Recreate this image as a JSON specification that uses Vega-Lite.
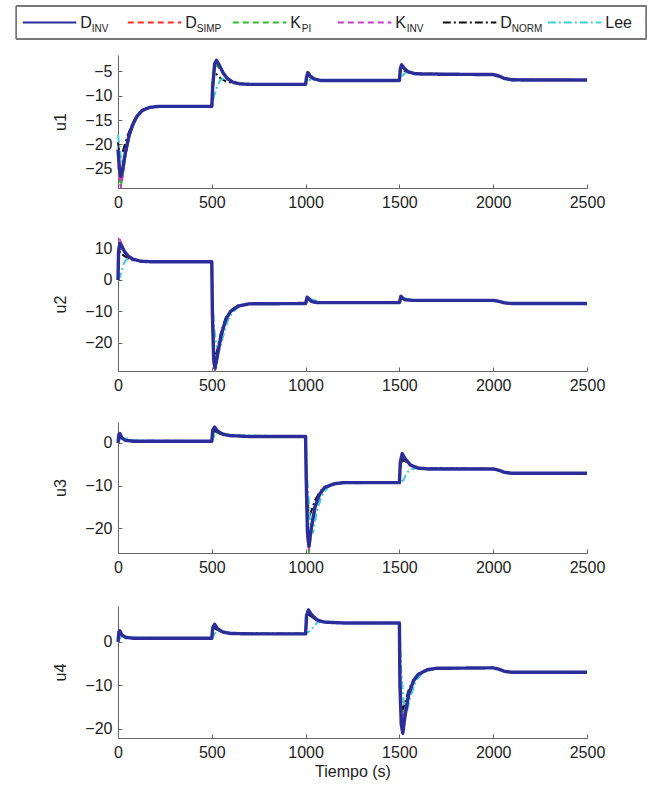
{
"$schema": "https://vega.github.io/schema/vega-lite/v6.json",
"padding": {"left": 15, "top": 5, "right": 0, "bottom": 5},
"config": {
 "view": {"stroke": null},
 "font": "Liberation Sans",
 "line": {"strokeJoin": "round", "strokeCap": "butt", "clip": true},
 "axis": {"grid": false, "domainColor": "#666", "tickColor": "#666", "labelColor": "#222", "labelFontSize": 16, "titleFontSize": 16, "titleFontWeight": "normal", "titleColor": "#222", "tickSize": -4, "labelPadding": 10, "labelFlush": false, "labelFont": "Liberation Sans", "titleFont": "Liberation Sans"},
 "axisY": {"minExtent": 42, "maxExtent": 42, "titlePadding": 8}
},
"spacing": 15,
"vconcat": [
 {
  "width": 469, "height": 33,
  "data": {"name": "leyenda"},
  "encoding": {"x": {"field": "s", "type": "nominal", "scale": {"type": "band", "domain": ["D_INV","D_SIMP","K_PI","K_INV","D_NORM","Lee"], "range": [-101.7, 528.3], "paddingInner": 0, "paddingOuter": 0}, "axis": null}},
  "layer": [
   {"mark": {"type": "rect", "fill": "transparent", "stroke": "#777", "strokeWidth": 1, "xOffset": -52.5, "x2Offset": 52.5},
    "encoding": {"x": {"datum": "D_INV", "type": "nominal"}, "x2": {"datum": "Lee"}}},
   {"mark": {"type": "rule", "xOffset": -46, "x2Offset": 7.5, "strokeWidth": 2},
    "encoding": {"x2": {"field": "s"},
     "color": {"field": "s", "type": "nominal", "scale": {"domain": ["D_INV","D_SIMP","K_PI","K_INV","D_NORM","Lee"], "range": ["#2b2d9b","#ff2a2a","#2dbb2d","#c43cc4","#111111","#40cfd0"]}, "legend": null},
     "strokeDash": {"field": "s", "type": "nominal", "scale": {"domain": ["D_INV","D_SIMP","K_PI","K_INV","D_NORM","Lee"], "range": [[1,0],[6,4],[6,4],[6,4],[8,3,2,3],[8,3,2,3]]}, "legend": null}}},
   {"mark": {"type": "text", "align": "left", "xOffset": 11.5, "fontSize": 16, "baseline": "middle", "color": "#222"},
    "encoding": {"text": {"field": "main"}}},
   {"mark": {"type": "text", "align": "left", "xOffset": 23, "dy": 6, "fontSize": 10, "baseline": "middle", "color": "#222"},
    "encoding": {"text": {"field": "sub"}}}
  ]
 },
 {"width": 469, "height": 133, "data": {"name": "u1"},
  "encoding": {
   "x": {"field": "t", "type": "quantitative", "scale": {"domain": [0, 2500], "nice": false}, "axis": {"values": [0,500,1000,1500,2000,2500], "format": "d", "title": " ", "titleFontSize": 10, "titlePadding": 2}},
   "y": {"field": "y", "type": "quantitative", "scale": {"domain": [-28.9, -1.7], "nice": false, "zero": false}, "axis": {"values": [-25,-20,-15,-10,-5], "title": "u1"}},
   "color": {"field": "s", "type": "nominal", "scale": {"domain": ["D_INV","D_SIMP","K_PI","K_INV","D_NORM","Lee"], "range": ["#2b2d9b","#ff2a2a","#2dbb2d","#c43cc4","#111111","#40cfd0"]}, "legend": null},
   "strokeDash": {"field": "s", "type": "nominal", "scale": {"domain": ["D_INV","D_SIMP","K_PI","K_INV","D_NORM","Lee"], "range": [[1,0],[6,4],[6,4],[6,4],[8,3,2,3],[8,3,2,3]]}, "legend": null}},
  "layer": [
   {"transform": [{"filter": "datum.s != 'D_INV'"}], "mark": {"type": "line", "strokeWidth": 2}},
   {"transform": [{"filter": "datum.s == 'D_INV'"}], "mark": {"type": "line", "strokeWidth": 3.4}}
  ]},
 {"width": 469, "height": 134, "data": {"name": "u2"},
  "encoding": {
   "x": {"field": "t", "type": "quantitative", "scale": {"domain": [0, 2500], "nice": false}, "axis": {"values": [0,500,1000,1500,2000,2500], "format": "d", "title": " ", "titleFontSize": 12, "titlePadding": 3}},
   "y": {"field": "y", "type": "quantitative", "scale": {"domain": [-29, 13.7], "nice": false, "zero": false}, "axis": {"values": [-20,-10,0,10], "title": "u2"}},
   "color": {"field": "s", "type": "nominal", "scale": {"domain": ["D_INV","D_SIMP","K_PI","K_INV","D_NORM","Lee"], "range": ["#2b2d9b","#ff2a2a","#2dbb2d","#c43cc4","#111111","#40cfd0"]}, "legend": null},
   "strokeDash": {"field": "s", "type": "nominal", "scale": {"domain": ["D_INV","D_SIMP","K_PI","K_INV","D_NORM","Lee"], "range": [[1,0],[6,4],[6,4],[6,4],[8,3,2,3],[8,3,2,3]]}, "legend": null}},
  "layer": [
   {"transform": [{"filter": "datum.s != 'D_INV'"}], "mark": {"type": "line", "strokeWidth": 2}},
   {"transform": [{"filter": "datum.s == 'D_INV'"}], "mark": {"type": "line", "strokeWidth": 3.4}}
  ]},
 {"width": 469, "height": 131, "data": {"name": "u3"},
  "encoding": {
   "x": {"field": "t", "type": "quantitative", "scale": {"domain": [0, 2500], "nice": false}, "axis": {"values": [0,500,1000,1500,2000,2500], "format": "d", "title": " ", "titleFontSize": 13, "titlePadding": 3}},
   "y": {"field": "y", "type": "quantitative", "scale": {"domain": [-25.8, 4.9], "nice": false, "zero": false}, "axis": {"values": [-20,-10,0], "title": "u3"}},
   "color": {"field": "s", "type": "nominal", "scale": {"domain": ["D_INV","D_SIMP","K_PI","K_INV","D_NORM","Lee"], "range": ["#2b2d9b","#ff2a2a","#2dbb2d","#c43cc4","#111111","#40cfd0"]}, "legend": null},
   "strokeDash": {"field": "s", "type": "nominal", "scale": {"domain": ["D_INV","D_SIMP","K_PI","K_INV","D_NORM","Lee"], "range": [[1,0],[6,4],[6,4],[6,4],[8,3,2,3],[8,3,2,3]]}, "legend": null}},
  "layer": [
   {"transform": [{"filter": "datum.s != 'D_INV'"}], "mark": {"type": "line", "strokeWidth": 2}},
   {"transform": [{"filter": "datum.s == 'D_INV'"}], "mark": {"type": "line", "strokeWidth": 3.4}}
  ]},
 {"width": 469, "height": 132, "data": {"name": "u4"},
  "encoding": {
   "x": {"field": "t", "type": "quantitative", "scale": {"domain": [0, 2500], "nice": false}, "axis": {"values": [0,500,1000,1500,2000,2500], "format": "d", "title": "Tiempo (s)", "titlePadding": 3}},
   "y": {"field": "y", "type": "quantitative", "scale": {"domain": [-22.1, 8.2], "nice": false, "zero": false}, "axis": {"values": [-20,-10,0], "title": "u4"}},
   "color": {"field": "s", "type": "nominal", "scale": {"domain": ["D_INV","D_SIMP","K_PI","K_INV","D_NORM","Lee"], "range": ["#2b2d9b","#ff2a2a","#2dbb2d","#c43cc4","#111111","#40cfd0"]}, "legend": null},
   "strokeDash": {"field": "s", "type": "nominal", "scale": {"domain": ["D_INV","D_SIMP","K_PI","K_INV","D_NORM","Lee"], "range": [[1,0],[6,4],[6,4],[6,4],[8,3,2,3],[8,3,2,3]]}, "legend": null}},
  "layer": [
   {"transform": [{"filter": "datum.s != 'D_INV'"}], "mark": {"type": "line", "strokeWidth": 2}},
   {"transform": [{"filter": "datum.s == 'D_INV'"}], "mark": {"type": "line", "strokeWidth": 3.4}}
  ]}
],
"datasets": {
 "leyenda": [
  {"s": "D_INV", "main": "D", "sub": "INV"},
  {"s": "D_SIMP", "main": "D", "sub": "SIMP"},
  {"s": "K_PI", "main": "K", "sub": "PI"},
  {"s": "K_INV", "main": "K", "sub": "INV"},
  {"s": "D_NORM", "main": "D", "sub": "NORM"},
  {"s": "Lee", "main": "Lee", "sub": ""}
 ],
 "u1": [
  {"s":"D_INV","t":0,"y":-21},{"s":"D_INV","t":8,"y":-25},{"s":"D_INV","t":15,"y":-26.5},{"s":"D_INV","t":25,"y":-25},{"s":"D_INV","t":40,"y":-21.5},{"s":"D_INV","t":60,"y":-18},{"s":"D_INV","t":80,"y":-15.8},{"s":"D_INV","t":100,"y":-14.3},{"s":"D_INV","t":130,"y":-13},{"s":"D_INV","t":170,"y":-12.4},{"s":"D_INV","t":220,"y":-12.2},{"s":"D_INV","t":500,"y":-12.2},{"s":"D_INV","t":505,"y":-8},{"s":"D_INV","t":515,"y":-3.5},{"s":"D_INV","t":525,"y":-2.8},{"s":"D_INV","t":540,"y":-3.8},{"s":"D_INV","t":560,"y":-5.3},{"s":"D_INV","t":580,"y":-6.4},{"s":"D_INV","t":610,"y":-7.2},{"s":"D_INV","t":650,"y":-7.6},{"s":"D_INV","t":700,"y":-7.7},{"s":"D_INV","t":1000,"y":-7.7},{"s":"D_INV","t":1005,"y":-6.2},{"s":"D_INV","t":1012,"y":-5.3},{"s":"D_INV","t":1025,"y":-6},{"s":"D_INV","t":1045,"y":-6.6},{"s":"D_INV","t":1080,"y":-6.9},{"s":"D_INV","t":1500,"y":-6.9},{"s":"D_INV","t":1505,"y":-4.5},{"s":"D_INV","t":1512,"y":-3.7},{"s":"D_INV","t":1525,"y":-4.4},{"s":"D_INV","t":1545,"y":-5.1},{"s":"D_INV","t":1580,"y":-5.5},{"s":"D_INV","t":1620,"y":-5.6},{"s":"D_INV","t":2000,"y":-5.7},{"s":"D_INV","t":2030,"y":-6.0},{"s":"D_INV","t":2060,"y":-6.5},{"s":"D_INV","t":2100,"y":-6.75},{"s":"D_INV","t":2150,"y":-6.8},{"s":"D_INV","t":2500,"y":-6.8},
  {"s":"D_SIMP","t":0,"y":-22},{"s":"D_SIMP","t":8,"y":-26.5},{"s":"D_SIMP","t":15,"y":-28},{"s":"D_SIMP","t":25,"y":-26},{"s":"D_SIMP","t":40,"y":-22},{"s":"D_SIMP","t":60,"y":-18.3},{"s":"D_SIMP","t":80,"y":-16},{"s":"D_SIMP","t":100,"y":-14.4},{"s":"D_SIMP","t":130,"y":-13},{"s":"D_SIMP","t":170,"y":-12.4},{"s":"D_SIMP","t":220,"y":-12.2},{"s":"D_SIMP","t":500,"y":-12.2},{"s":"D_SIMP","t":505,"y":-8.5},{"s":"D_SIMP","t":515,"y":-4},{"s":"D_SIMP","t":525,"y":-3.2},{"s":"D_SIMP","t":540,"y":-4},{"s":"D_SIMP","t":560,"y":-5.4},{"s":"D_SIMP","t":580,"y":-6.4},{"s":"D_SIMP","t":610,"y":-7.2},{"s":"D_SIMP","t":650,"y":-7.6},{"s":"D_SIMP","t":700,"y":-7.7},{"s":"D_SIMP","t":1000,"y":-7.7},{"s":"D_SIMP","t":1005,"y":-6.4},{"s":"D_SIMP","t":1012,"y":-5.6},{"s":"D_SIMP","t":1025,"y":-6.1},{"s":"D_SIMP","t":1045,"y":-6.6},{"s":"D_SIMP","t":1080,"y":-6.9},{"s":"D_SIMP","t":1500,"y":-6.9},{"s":"D_SIMP","t":1505,"y":-4.8},{"s":"D_SIMP","t":1512,"y":-4},{"s":"D_SIMP","t":1525,"y":-4.6},{"s":"D_SIMP","t":1545,"y":-5.2},{"s":"D_SIMP","t":1580,"y":-5.5},{"s":"D_SIMP","t":2000,"y":-5.7},{"s":"D_SIMP","t":2030,"y":-6.0},{"s":"D_SIMP","t":2060,"y":-6.5},{"s":"D_SIMP","t":2100,"y":-6.75},{"s":"D_SIMP","t":2500,"y":-6.8},
  {"s":"K_PI","t":0,"y":-22.5},{"s":"K_PI","t":8,"y":-27},{"s":"K_PI","t":15,"y":-28.6},{"s":"K_PI","t":25,"y":-26.5},{"s":"K_PI","t":40,"y":-22.3},{"s":"K_PI","t":60,"y":-18.5},{"s":"K_PI","t":80,"y":-16.1},{"s":"K_PI","t":100,"y":-14.5},{"s":"K_PI","t":130,"y":-13.1},{"s":"K_PI","t":170,"y":-12.4},{"s":"K_PI","t":220,"y":-12.2},{"s":"K_PI","t":500,"y":-12.2},{"s":"K_PI","t":505,"y":-9},{"s":"K_PI","t":515,"y":-5},{"s":"K_PI","t":525,"y":-3.8},{"s":"K_PI","t":540,"y":-4.4},{"s":"K_PI","t":560,"y":-5.6},{"s":"K_PI","t":580,"y":-6.5},{"s":"K_PI","t":610,"y":-7.2},{"s":"K_PI","t":650,"y":-7.6},{"s":"K_PI","t":700,"y":-7.7},{"s":"K_PI","t":1000,"y":-7.7},{"s":"K_PI","t":1005,"y":-6.5},{"s":"K_PI","t":1012,"y":-5.8},{"s":"K_PI","t":1025,"y":-6.2},{"s":"K_PI","t":1045,"y":-6.6},{"s":"K_PI","t":1080,"y":-6.9},{"s":"K_PI","t":1500,"y":-6.9},{"s":"K_PI","t":1505,"y":-5},{"s":"K_PI","t":1512,"y":-4.2},{"s":"K_PI","t":1525,"y":-4.7},{"s":"K_PI","t":1545,"y":-5.2},{"s":"K_PI","t":1580,"y":-5.5},{"s":"K_PI","t":2000,"y":-5.7},{"s":"K_PI","t":2030,"y":-6.0},{"s":"K_PI","t":2060,"y":-6.5},{"s":"K_PI","t":2100,"y":-6.75},{"s":"K_PI","t":2500,"y":-6.8},
  {"s":"K_INV","t":0,"y":-22},{"s":"K_INV","t":8,"y":-27.3},{"s":"K_INV","t":15,"y":-28.8},{"s":"K_INV","t":25,"y":-26.6},{"s":"K_INV","t":40,"y":-22.2},{"s":"K_INV","t":60,"y":-18.4},{"s":"K_INV","t":80,"y":-16},{"s":"K_INV","t":100,"y":-14.4},{"s":"K_INV","t":130,"y":-13},{"s":"K_INV","t":170,"y":-12.4},{"s":"K_INV","t":220,"y":-12.2},{"s":"K_INV","t":500,"y":-12.2},{"s":"K_INV","t":505,"y":-8.2},{"s":"K_INV","t":515,"y":-3.7},{"s":"K_INV","t":525,"y":-3.0},{"s":"K_INV","t":540,"y":-3.9},{"s":"K_INV","t":560,"y":-5.3},{"s":"K_INV","t":580,"y":-6.4},{"s":"K_INV","t":610,"y":-7.2},{"s":"K_INV","t":650,"y":-7.6},{"s":"K_INV","t":700,"y":-7.7},{"s":"K_INV","t":1000,"y":-7.7},{"s":"K_INV","t":1005,"y":-6.2},{"s":"K_INV","t":1012,"y":-5.4},{"s":"K_INV","t":1025,"y":-6},{"s":"K_INV","t":1045,"y":-6.6},{"s":"K_INV","t":1080,"y":-6.9},{"s":"K_INV","t":1500,"y":-6.9},{"s":"K_INV","t":1505,"y":-4.6},{"s":"K_INV","t":1512,"y":-3.8},{"s":"K_INV","t":1525,"y":-4.5},{"s":"K_INV","t":1545,"y":-5.1},{"s":"K_INV","t":1580,"y":-5.5},{"s":"K_INV","t":2000,"y":-5.7},{"s":"K_INV","t":2030,"y":-6.0},{"s":"K_INV","t":2060,"y":-6.5},{"s":"K_INV","t":2100,"y":-6.75},{"s":"K_INV","t":2500,"y":-6.8},
  {"s":"D_NORM","t":0,"y":-19.5},{"s":"D_NORM","t":5,"y":-21},{"s":"D_NORM","t":12,"y":-22},{"s":"D_NORM","t":25,"y":-21.5},{"s":"D_NORM","t":40,"y":-19.5},{"s":"D_NORM","t":60,"y":-17.3},{"s":"D_NORM","t":80,"y":-15.5},{"s":"D_NORM","t":100,"y":-14.2},{"s":"D_NORM","t":130,"y":-13},{"s":"D_NORM","t":170,"y":-12.4},{"s":"D_NORM","t":220,"y":-12.2},{"s":"D_NORM","t":500,"y":-12.2},{"s":"D_NORM","t":503,"y":-8},{"s":"D_NORM","t":512,"y":-5},{"s":"D_NORM","t":525,"y":-5.6},{"s":"D_NORM","t":545,"y":-6.4},{"s":"D_NORM","t":575,"y":-7.1},{"s":"D_NORM","t":620,"y":-7.5},{"s":"D_NORM","t":700,"y":-7.7},{"s":"D_NORM","t":1000,"y":-7.7},{"s":"D_NORM","t":1005,"y":-6.3},{"s":"D_NORM","t":1015,"y":-6.0},{"s":"D_NORM","t":1035,"y":-6.5},{"s":"D_NORM","t":1080,"y":-6.9},{"s":"D_NORM","t":1500,"y":-6.9},{"s":"D_NORM","t":1505,"y":-5},{"s":"D_NORM","t":1515,"y":-4.6},{"s":"D_NORM","t":1535,"y":-5.1},{"s":"D_NORM","t":1580,"y":-5.5},{"s":"D_NORM","t":2000,"y":-5.7},{"s":"D_NORM","t":2030,"y":-6},{"s":"D_NORM","t":2060,"y":-6.5},{"s":"D_NORM","t":2100,"y":-6.75},{"s":"D_NORM","t":2500,"y":-6.8},
  {"s":"Lee","t":0,"y":-18},{"s":"Lee","t":10,"y":-21},{"s":"Lee","t":20,"y":-23.5},{"s":"Lee","t":35,"y":-22.5},{"s":"Lee","t":50,"y":-20},{"s":"Lee","t":70,"y":-17},{"s":"Lee","t":95,"y":-14.8},{"s":"Lee","t":120,"y":-13.5},{"s":"Lee","t":160,"y":-12.6},{"s":"Lee","t":220,"y":-12.2},{"s":"Lee","t":500,"y":-12.2},{"s":"Lee","t":510,"y":-10.5},{"s":"Lee","t":525,"y":-8.5},{"s":"Lee","t":545,"y":-6.8},{"s":"Lee","t":565,"y":-6.5},{"s":"Lee","t":590,"y":-6.9},{"s":"Lee","t":630,"y":-7.4},{"s":"Lee","t":700,"y":-7.7},{"s":"Lee","t":1000,"y":-7.7},{"s":"Lee","t":1015,"y":-7},{"s":"Lee","t":1035,"y":-6.5},{"s":"Lee","t":1060,"y":-6.7},{"s":"Lee","t":1100,"y":-6.9},{"s":"Lee","t":1500,"y":-6.9},{"s":"Lee","t":1515,"y":-6},{"s":"Lee","t":1535,"y":-5.2},{"s":"Lee","t":1560,"y":-5.3},{"s":"Lee","t":1600,"y":-5.5},{"s":"Lee","t":2000,"y":-5.7},{"s":"Lee","t":2040,"y":-6.1},{"s":"Lee","t":2090,"y":-7.0},{"s":"Lee","t":2150,"y":-6.85},{"s":"Lee","t":2500,"y":-6.8}
 ],
 "u2": [
  {"s":"D_INV","t":0,"y":0},{"s":"D_INV","t":3,"y":9},{"s":"D_INV","t":10,"y":11.6},{"s":"D_INV","t":20,"y":10.8},{"s":"D_INV","t":35,"y":9},{"s":"D_INV","t":55,"y":7.6},{"s":"D_INV","t":80,"y":6.6},{"s":"D_INV","t":120,"y":6.0},{"s":"D_INV","t":180,"y":5.8},{"s":"D_INV","t":500,"y":5.8},{"s":"D_INV","t":503,"y":-10},{"s":"D_INV","t":510,"y":-25},{"s":"D_INV","t":517,"y":-28},{"s":"D_INV","t":530,"y":-24},{"s":"D_INV","t":550,"y":-17.5},{"s":"D_INV","t":575,"y":-12.5},{"s":"D_INV","t":600,"y":-10},{"s":"D_INV","t":640,"y":-8.3},{"s":"D_INV","t":700,"y":-7.6},{"s":"D_INV","t":1000,"y":-7.5},{"s":"D_INV","t":1008,"y":-5.5},{"s":"D_INV","t":1015,"y":-5.8},{"s":"D_INV","t":1030,"y":-6.8},{"s":"D_INV","t":1060,"y":-7.2},{"s":"D_INV","t":1500,"y":-7.2},{"s":"D_INV","t":1508,"y":-5.2},{"s":"D_INV","t":1515,"y":-5.6},{"s":"D_INV","t":1530,"y":-6.3},{"s":"D_INV","t":1570,"y":-6.5},{"s":"D_INV","t":2000,"y":-6.5},{"s":"D_INV","t":2030,"y":-6.8},{"s":"D_INV","t":2060,"y":-7.3},{"s":"D_INV","t":2100,"y":-7.5},{"s":"D_INV","t":2500,"y":-7.5},
  {"s":"D_SIMP","t":0,"y":0},{"s":"D_SIMP","t":3,"y":9.5},{"s":"D_SIMP","t":10,"y":12.2},{"s":"D_SIMP","t":20,"y":11},{"s":"D_SIMP","t":35,"y":9},{"s":"D_SIMP","t":55,"y":7.6},{"s":"D_SIMP","t":80,"y":6.6},{"s":"D_SIMP","t":120,"y":6},{"s":"D_SIMP","t":180,"y":5.8},{"s":"D_SIMP","t":500,"y":5.8},{"s":"D_SIMP","t":503,"y":-11},{"s":"D_SIMP","t":510,"y":-26},{"s":"D_SIMP","t":517,"y":-28.5},{"s":"D_SIMP","t":530,"y":-24.5},{"s":"D_SIMP","t":550,"y":-17.8},{"s":"D_SIMP","t":575,"y":-12.6},{"s":"D_SIMP","t":600,"y":-10},{"s":"D_SIMP","t":640,"y":-8.3},{"s":"D_SIMP","t":700,"y":-7.6},{"s":"D_SIMP","t":1000,"y":-7.5},{"s":"D_SIMP","t":1008,"y":-5.6},{"s":"D_SIMP","t":1015,"y":-5.9},{"s":"D_SIMP","t":1030,"y":-6.8},{"s":"D_SIMP","t":1060,"y":-7.2},{"s":"D_SIMP","t":1500,"y":-7.2},{"s":"D_SIMP","t":1508,"y":-5.3},{"s":"D_SIMP","t":1515,"y":-5.7},{"s":"D_SIMP","t":1530,"y":-6.3},{"s":"D_SIMP","t":1570,"y":-6.5},{"s":"D_SIMP","t":2000,"y":-6.5},{"s":"D_SIMP","t":2030,"y":-6.8},{"s":"D_SIMP","t":2060,"y":-7.3},{"s":"D_SIMP","t":2100,"y":-7.5},{"s":"D_SIMP","t":2500,"y":-7.5},
  {"s":"K_PI","t":0,"y":0},{"s":"K_PI","t":3,"y":9.3},{"s":"K_PI","t":10,"y":12.5},{"s":"K_PI","t":20,"y":11.2},{"s":"K_PI","t":35,"y":9.2},{"s":"K_PI","t":55,"y":7.7},{"s":"K_PI","t":80,"y":6.6},{"s":"K_PI","t":120,"y":6},{"s":"K_PI","t":180,"y":5.8},{"s":"K_PI","t":500,"y":5.8},{"s":"K_PI","t":503,"y":-12},{"s":"K_PI","t":510,"y":-27},{"s":"K_PI","t":517,"y":-29},{"s":"K_PI","t":530,"y":-25},{"s":"K_PI","t":550,"y":-18},{"s":"K_PI","t":575,"y":-12.8},{"s":"K_PI","t":600,"y":-10.1},{"s":"K_PI","t":640,"y":-8.3},{"s":"K_PI","t":700,"y":-7.6},{"s":"K_PI","t":1000,"y":-7.5},{"s":"K_PI","t":1008,"y":-5.8},{"s":"K_PI","t":1015,"y":-6},{"s":"K_PI","t":1030,"y":-6.8},{"s":"K_PI","t":1060,"y":-7.2},{"s":"K_PI","t":1500,"y":-7.2},{"s":"K_PI","t":1508,"y":-5.5},{"s":"K_PI","t":1515,"y":-5.8},{"s":"K_PI","t":1530,"y":-6.3},{"s":"K_PI","t":1570,"y":-6.5},{"s":"K_PI","t":2000,"y":-6.5},{"s":"K_PI","t":2030,"y":-6.8},{"s":"K_PI","t":2060,"y":-7.3},{"s":"K_PI","t":2100,"y":-7.5},{"s":"K_PI","t":2500,"y":-7.5},
  {"s":"K_INV","t":0,"y":0},{"s":"K_INV","t":3,"y":10},{"s":"K_INV","t":10,"y":12.9},{"s":"K_INV","t":20,"y":11.3},{"s":"K_INV","t":35,"y":9.2},{"s":"K_INV","t":55,"y":7.7},{"s":"K_INV","t":80,"y":6.6},{"s":"K_INV","t":120,"y":6},{"s":"K_INV","t":180,"y":5.8},{"s":"K_INV","t":500,"y":5.8},{"s":"K_INV","t":503,"y":-11.5},{"s":"K_INV","t":510,"y":-26.5},{"s":"K_INV","t":517,"y":-28.8},{"s":"K_INV","t":530,"y":-24.8},{"s":"K_INV","t":550,"y":-17.9},{"s":"K_INV","t":575,"y":-12.7},{"s":"K_INV","t":600,"y":-10},{"s":"K_INV","t":640,"y":-8.3},{"s":"K_INV","t":700,"y":-7.6},{"s":"K_INV","t":1000,"y":-7.5},{"s":"K_INV","t":1008,"y":-5.6},{"s":"K_INV","t":1015,"y":-5.9},{"s":"K_INV","t":1030,"y":-6.8},{"s":"K_INV","t":1060,"y":-7.2},{"s":"K_INV","t":1500,"y":-7.2},{"s":"K_INV","t":1508,"y":-5.3},{"s":"K_INV","t":1515,"y":-5.7},{"s":"K_INV","t":1530,"y":-6.3},{"s":"K_INV","t":1570,"y":-6.5},{"s":"K_INV","t":2000,"y":-6.5},{"s":"K_INV","t":2030,"y":-6.8},{"s":"K_INV","t":2060,"y":-7.3},{"s":"K_INV","t":2100,"y":-7.5},{"s":"K_INV","t":2500,"y":-7.5},
  {"s":"D_NORM","t":0,"y":0},{"s":"D_NORM","t":3,"y":7},{"s":"D_NORM","t":10,"y":9},{"s":"D_NORM","t":22,"y":8.2},{"s":"D_NORM","t":35,"y":7.6},{"s":"D_NORM","t":55,"y":6.9},{"s":"D_NORM","t":80,"y":6.3},{"s":"D_NORM","t":120,"y":6.0},{"s":"D_NORM","t":180,"y":5.8},{"s":"D_NORM","t":500,"y":5.8},{"s":"D_NORM","t":503,"y":-12},{"s":"D_NORM","t":510,"y":-22},{"s":"D_NORM","t":517,"y":-25},{"s":"D_NORM","t":530,"y":-22},{"s":"D_NORM","t":550,"y":-16.5},{"s":"D_NORM","t":575,"y":-12},{"s":"D_NORM","t":600,"y":-9.8},{"s":"D_NORM","t":640,"y":-8.2},{"s":"D_NORM","t":700,"y":-7.6},{"s":"D_NORM","t":1000,"y":-7.5},{"s":"D_NORM","t":1008,"y":-6},{"s":"D_NORM","t":1020,"y":-6.2},{"s":"D_NORM","t":1040,"y":-6.9},{"s":"D_NORM","t":1070,"y":-7.2},{"s":"D_NORM","t":1500,"y":-7.2},{"s":"D_NORM","t":1508,"y":-5.7},{"s":"D_NORM","t":1520,"y":-6},{"s":"D_NORM","t":1540,"y":-6.4},{"s":"D_NORM","t":2000,"y":-6.5},{"s":"D_NORM","t":2030,"y":-6.8},{"s":"D_NORM","t":2060,"y":-7.3},{"s":"D_NORM","t":2100,"y":-7.5},{"s":"D_NORM","t":2500,"y":-7.5},
  {"s":"Lee","t":0,"y":0},{"s":"Lee","t":10,"y":1},{"s":"Lee","t":20,"y":3},{"s":"Lee","t":30,"y":5},{"s":"Lee","t":45,"y":6.6},{"s":"Lee","t":65,"y":6.8},{"s":"Lee","t":100,"y":6.3},{"s":"Lee","t":150,"y":5.9},{"s":"Lee","t":200,"y":5.8},{"s":"Lee","t":500,"y":5.8},{"s":"Lee","t":510,"y":-14},{"s":"Lee","t":525,"y":-21},{"s":"Lee","t":540,"y":-22.5},{"s":"Lee","t":560,"y":-18},{"s":"Lee","t":585,"y":-13},{"s":"Lee","t":610,"y":-10.2},{"s":"Lee","t":650,"y":-8.3},{"s":"Lee","t":700,"y":-7.6},{"s":"Lee","t":1000,"y":-7.5},{"s":"Lee","t":1015,"y":-6.6},{"s":"Lee","t":1030,"y":-6.1},{"s":"Lee","t":1055,"y":-6.6},{"s":"Lee","t":1090,"y":-7.1},{"s":"Lee","t":1500,"y":-7.2},{"s":"Lee","t":1515,"y":-6.3},{"s":"Lee","t":1535,"y":-5.9},{"s":"Lee","t":1560,"y":-6.3},{"s":"Lee","t":1600,"y":-6.5},{"s":"Lee","t":2000,"y":-6.5},{"s":"Lee","t":2040,"y":-6.9},{"s":"Lee","t":2080,"y":-7.5},{"s":"Lee","t":2120,"y":-7.6},{"s":"Lee","t":2500,"y":-7.5}
 ],
 "u3": [
  {"s":"D_INV","t":0,"y":0},{"s":"D_INV","t":5,"y":2},{"s":"D_INV","t":10,"y":2.2},{"s":"D_INV","t":20,"y":1.2},{"s":"D_INV","t":40,"y":0.6},{"s":"D_INV","t":80,"y":0.4},{"s":"D_INV","t":500,"y":0.4},{"s":"D_INV","t":505,"y":3},{"s":"D_INV","t":515,"y":3.7},{"s":"D_INV","t":530,"y":2.8},{"s":"D_INV","t":560,"y":2.0},{"s":"D_INV","t":600,"y":1.7},{"s":"D_INV","t":700,"y":1.5},{"s":"D_INV","t":1000,"y":1.5},{"s":"D_INV","t":1003,"y":-8},{"s":"D_INV","t":1010,"y":-21},{"s":"D_INV","t":1018,"y":-24.2},{"s":"D_INV","t":1030,"y":-20},{"s":"D_INV","t":1050,"y":-15},{"s":"D_INV","t":1075,"y":-12},{"s":"D_INV","t":1100,"y":-10.5},{"s":"D_INV","t":1150,"y":-9.6},{"s":"D_INV","t":1200,"y":-9.3},{"s":"D_INV","t":1500,"y":-9.3},{"s":"D_INV","t":1505,"y":-4.5},{"s":"D_INV","t":1515,"y":-2.5},{"s":"D_INV","t":1530,"y":-3.7},{"s":"D_INV","t":1560,"y":-5.2},{"s":"D_INV","t":1600,"y":-5.9},{"s":"D_INV","t":1650,"y":-6.1},{"s":"D_INV","t":2000,"y":-6.1},{"s":"D_INV","t":2030,"y":-6.4},{"s":"D_INV","t":2060,"y":-6.9},{"s":"D_INV","t":2100,"y":-7.1},{"s":"D_INV","t":2500,"y":-7.1},
  {"s":"D_SIMP","t":0,"y":0},{"s":"D_SIMP","t":5,"y":2.1},{"s":"D_SIMP","t":10,"y":2.3},{"s":"D_SIMP","t":20,"y":1.3},{"s":"D_SIMP","t":40,"y":0.6},{"s":"D_SIMP","t":80,"y":0.4},{"s":"D_SIMP","t":500,"y":0.4},{"s":"D_SIMP","t":505,"y":2.8},{"s":"D_SIMP","t":515,"y":3.5},{"s":"D_SIMP","t":530,"y":2.8},{"s":"D_SIMP","t":560,"y":2.0},{"s":"D_SIMP","t":600,"y":1.7},{"s":"D_SIMP","t":700,"y":1.5},{"s":"D_SIMP","t":1000,"y":1.5},{"s":"D_SIMP","t":1003,"y":-8.5},{"s":"D_SIMP","t":1010,"y":-21.5},{"s":"D_SIMP","t":1018,"y":-24.8},{"s":"D_SIMP","t":1030,"y":-20.5},{"s":"D_SIMP","t":1050,"y":-15.2},{"s":"D_SIMP","t":1075,"y":-12.1},{"s":"D_SIMP","t":1100,"y":-10.5},{"s":"D_SIMP","t":1150,"y":-9.6},{"s":"D_SIMP","t":1200,"y":-9.3},{"s":"D_SIMP","t":1500,"y":-9.3},{"s":"D_SIMP","t":1505,"y":-5},{"s":"D_SIMP","t":1515,"y":-3},{"s":"D_SIMP","t":1530,"y":-3.9},{"s":"D_SIMP","t":1560,"y":-5.3},{"s":"D_SIMP","t":1600,"y":-5.9},{"s":"D_SIMP","t":1650,"y":-6.1},{"s":"D_SIMP","t":2000,"y":-6.1},{"s":"D_SIMP","t":2030,"y":-6.4},{"s":"D_SIMP","t":2060,"y":-6.9},{"s":"D_SIMP","t":2100,"y":-7.1},{"s":"D_SIMP","t":2500,"y":-7.1},
  {"s":"K_PI","t":0,"y":0},{"s":"K_PI","t":5,"y":1.8},{"s":"K_PI","t":10,"y":2.1},{"s":"K_PI","t":20,"y":1.3},{"s":"K_PI","t":40,"y":0.6},{"s":"K_PI","t":80,"y":0.4},{"s":"K_PI","t":500,"y":0.4},{"s":"K_PI","t":505,"y":1.8},{"s":"K_PI","t":515,"y":2.8},{"s":"K_PI","t":530,"y":2.5},{"s":"K_PI","t":560,"y":1.9},{"s":"K_PI","t":600,"y":1.7},{"s":"K_PI","t":700,"y":1.5},{"s":"K_PI","t":1000,"y":1.5},{"s":"K_PI","t":1003,"y":-9},{"s":"K_PI","t":1010,"y":-22.5},{"s":"K_PI","t":1018,"y":-25.6},{"s":"K_PI","t":1030,"y":-21},{"s":"K_PI","t":1050,"y":-15.5},{"s":"K_PI","t":1075,"y":-12.2},{"s":"K_PI","t":1100,"y":-10.6},{"s":"K_PI","t":1150,"y":-9.6},{"s":"K_PI","t":1200,"y":-9.3},{"s":"K_PI","t":1500,"y":-9.3},{"s":"K_PI","t":1505,"y":-5.5},{"s":"K_PI","t":1515,"y":-3.5},{"s":"K_PI","t":1530,"y":-4.1},{"s":"K_PI","t":1560,"y":-5.3},{"s":"K_PI","t":1600,"y":-5.9},{"s":"K_PI","t":2000,"y":-6.1},{"s":"K_PI","t":2030,"y":-6.4},{"s":"K_PI","t":2060,"y":-6.9},{"s":"K_PI","t":2100,"y":-7.1},{"s":"K_PI","t":2500,"y":-7.1},
  {"s":"K_INV","t":0,"y":0},{"s":"K_INV","t":5,"y":2},{"s":"K_INV","t":10,"y":2.2},{"s":"K_INV","t":20,"y":1.2},{"s":"K_INV","t":40,"y":0.6},{"s":"K_INV","t":80,"y":0.4},{"s":"K_INV","t":500,"y":0.4},{"s":"K_INV","t":505,"y":2.9},{"s":"K_INV","t":515,"y":3.4},{"s":"K_INV","t":530,"y":2.7},{"s":"K_INV","t":560,"y":2.0},{"s":"K_INV","t":600,"y":1.7},{"s":"K_INV","t":700,"y":1.5},{"s":"K_INV","t":1000,"y":1.5},{"s":"K_INV","t":1003,"y":-8.7},{"s":"K_INV","t":1010,"y":-22},{"s":"K_INV","t":1018,"y":-25.2},{"s":"K_INV","t":1030,"y":-20.7},{"s":"K_INV","t":1050,"y":-15.3},{"s":"K_INV","t":1075,"y":-12.1},{"s":"K_INV","t":1100,"y":-10.5},{"s":"K_INV","t":1150,"y":-9.6},{"s":"K_INV","t":1200,"y":-9.3},{"s":"K_INV","t":1500,"y":-9.3},{"s":"K_INV","t":1505,"y":-4.8},{"s":"K_INV","t":1515,"y":-2.8},{"s":"K_INV","t":1530,"y":-3.8},{"s":"K_INV","t":1560,"y":-5.2},{"s":"K_INV","t":1600,"y":-5.9},{"s":"K_INV","t":2000,"y":-6.1},{"s":"K_INV","t":2030,"y":-6.4},{"s":"K_INV","t":2060,"y":-6.9},{"s":"K_INV","t":2100,"y":-7.1},{"s":"K_INV","t":2500,"y":-7.1},
  {"s":"D_NORM","t":0,"y":0},{"s":"D_NORM","t":5,"y":1.5},{"s":"D_NORM","t":12,"y":1.8},{"s":"D_NORM","t":25,"y":1.1},{"s":"D_NORM","t":45,"y":0.6},{"s":"D_NORM","t":80,"y":0.4},{"s":"D_NORM","t":500,"y":0.4},{"s":"D_NORM","t":505,"y":2.2},{"s":"D_NORM","t":515,"y":2.8},{"s":"D_NORM","t":530,"y":2.4},{"s":"D_NORM","t":560,"y":1.9},{"s":"D_NORM","t":600,"y":1.7},{"s":"D_NORM","t":700,"y":1.5},{"s":"D_NORM","t":1000,"y":1.5},{"s":"D_NORM","t":1003,"y":-6},{"s":"D_NORM","t":1010,"y":-14},{"s":"D_NORM","t":1018,"y":-17.5},{"s":"D_NORM","t":1030,"y":-16},{"s":"D_NORM","t":1050,"y":-13.5},{"s":"D_NORM","t":1075,"y":-11.5},{"s":"D_NORM","t":1100,"y":-10.3},{"s":"D_NORM","t":1150,"y":-9.6},{"s":"D_NORM","t":1200,"y":-9.3},{"s":"D_NORM","t":1500,"y":-9.3},{"s":"D_NORM","t":1505,"y":-5.5},{"s":"D_NORM","t":1515,"y":-4},{"s":"D_NORM","t":1530,"y":-4.3},{"s":"D_NORM","t":1560,"y":-5.3},{"s":"D_NORM","t":1600,"y":-5.9},{"s":"D_NORM","t":2000,"y":-6.1},{"s":"D_NORM","t":2030,"y":-6.4},{"s":"D_NORM","t":2060,"y":-6.9},{"s":"D_NORM","t":2100,"y":-7.1},{"s":"D_NORM","t":2500,"y":-7.1},
  {"s":"Lee","t":0,"y":0},{"s":"Lee","t":10,"y":0.8},{"s":"Lee","t":25,"y":1.3},{"s":"Lee","t":45,"y":1.1},{"s":"Lee","t":90,"y":0.6},{"s":"Lee","t":500,"y":0.4},{"s":"Lee","t":515,"y":1.8},{"s":"Lee","t":535,"y":2.6},{"s":"Lee","t":560,"y":2.3},{"s":"Lee","t":600,"y":1.8},{"s":"Lee","t":1000,"y":1.5},{"s":"Lee","t":1010,"y":-9},{"s":"Lee","t":1025,"y":-19},{"s":"Lee","t":1040,"y":-21},{"s":"Lee","t":1060,"y":-16},{"s":"Lee","t":1085,"y":-12.5},{"s":"Lee","t":1120,"y":-10.3},{"s":"Lee","t":1180,"y":-9.5},{"s":"Lee","t":1500,"y":-9.3},{"s":"Lee","t":1520,"y":-8.8},{"s":"Lee","t":1540,"y":-7},{"s":"Lee","t":1560,"y":-6.2},{"s":"Lee","t":1600,"y":-5.9},{"s":"Lee","t":2000,"y":-6.1},{"s":"Lee","t":2040,"y":-6.5},{"s":"Lee","t":2080,"y":-7.2},{"s":"Lee","t":2120,"y":-7.2},{"s":"Lee","t":2500,"y":-7.1}
 ],
 "u4": [
  {"s":"D_INV","t":0,"y":0},{"s":"D_INV","t":5,"y":2.3},{"s":"D_INV","t":10,"y":2.5},{"s":"D_INV","t":20,"y":1.6},{"s":"D_INV","t":40,"y":1.0},{"s":"D_INV","t":80,"y":0.8},{"s":"D_INV","t":500,"y":0.8},{"s":"D_INV","t":505,"y":3.2},{"s":"D_INV","t":515,"y":4},{"s":"D_INV","t":530,"y":3},{"s":"D_INV","t":560,"y":2.2},{"s":"D_INV","t":600,"y":1.9},{"s":"D_INV","t":700,"y":1.8},{"s":"D_INV","t":1000,"y":1.8},{"s":"D_INV","t":1005,"y":6},{"s":"D_INV","t":1015,"y":7.3},{"s":"D_INV","t":1030,"y":6.3},{"s":"D_INV","t":1060,"y":5.0},{"s":"D_INV","t":1100,"y":4.5},{"s":"D_INV","t":1200,"y":4.3},{"s":"D_INV","t":1500,"y":4.3},{"s":"D_INV","t":1503,"y":-10},{"s":"D_INV","t":1510,"y":-19},{"s":"D_INV","t":1518,"y":-21},{"s":"D_INV","t":1530,"y":-17},{"s":"D_INV","t":1550,"y":-12},{"s":"D_INV","t":1575,"y":-9},{"s":"D_INV","t":1600,"y":-7.5},{"s":"D_INV","t":1650,"y":-6.4},{"s":"D_INV","t":1700,"y":-6.1},{"s":"D_INV","t":2000,"y":-6.0},{"s":"D_INV","t":2030,"y":-6.3},{"s":"D_INV","t":2060,"y":-6.8},{"s":"D_INV","t":2100,"y":-7.0},{"s":"D_INV","t":2500,"y":-7.0},
  {"s":"D_SIMP","t":0,"y":0},{"s":"D_SIMP","t":5,"y":2.2},{"s":"D_SIMP","t":10,"y":2.4},{"s":"D_SIMP","t":20,"y":1.6},{"s":"D_SIMP","t":40,"y":1.0},{"s":"D_SIMP","t":80,"y":0.8},{"s":"D_SIMP","t":500,"y":0.8},{"s":"D_SIMP","t":505,"y":3.0},{"s":"D_SIMP","t":515,"y":3.8},{"s":"D_SIMP","t":530,"y":3},{"s":"D_SIMP","t":560,"y":2.2},{"s":"D_SIMP","t":600,"y":1.9},{"s":"D_SIMP","t":700,"y":1.8},{"s":"D_SIMP","t":1000,"y":1.8},{"s":"D_SIMP","t":1005,"y":5.8},{"s":"D_SIMP","t":1015,"y":7.1},{"s":"D_SIMP","t":1030,"y":6.3},{"s":"D_SIMP","t":1060,"y":5.0},{"s":"D_SIMP","t":1100,"y":4.5},{"s":"D_SIMP","t":1200,"y":4.3},{"s":"D_SIMP","t":1500,"y":4.3},{"s":"D_SIMP","t":1503,"y":-9.5},{"s":"D_SIMP","t":1510,"y":-18},{"s":"D_SIMP","t":1518,"y":-20},{"s":"D_SIMP","t":1530,"y":-16.5},{"s":"D_SIMP","t":1550,"y":-11.8},{"s":"D_SIMP","t":1575,"y":-9},{"s":"D_SIMP","t":1600,"y":-7.5},{"s":"D_SIMP","t":1650,"y":-6.4},{"s":"D_SIMP","t":1700,"y":-6.1},{"s":"D_SIMP","t":2000,"y":-6.0},{"s":"D_SIMP","t":2030,"y":-6.3},{"s":"D_SIMP","t":2060,"y":-6.8},{"s":"D_SIMP","t":2100,"y":-7.0},{"s":"D_SIMP","t":2500,"y":-7.0},
  {"s":"K_PI","t":0,"y":0},{"s":"K_PI","t":5,"y":2.0},{"s":"K_PI","t":10,"y":2.3},{"s":"K_PI","t":20,"y":1.6},{"s":"K_PI","t":40,"y":1.0},{"s":"K_PI","t":80,"y":0.8},{"s":"K_PI","t":500,"y":0.8},{"s":"K_PI","t":505,"y":2.6},{"s":"K_PI","t":515,"y":3.4},{"s":"K_PI","t":530,"y":2.9},{"s":"K_PI","t":560,"y":2.2},{"s":"K_PI","t":600,"y":1.9},{"s":"K_PI","t":1000,"y":1.8},{"s":"K_PI","t":1005,"y":5.5},{"s":"K_PI","t":1015,"y":6.9},{"s":"K_PI","t":1030,"y":6.2},{"s":"K_PI","t":1060,"y":5.0},{"s":"K_PI","t":1100,"y":4.5},{"s":"K_PI","t":1200,"y":4.3},{"s":"K_PI","t":1500,"y":4.3},{"s":"K_PI","t":1503,"y":-8},{"s":"K_PI","t":1512,"y":-15},{"s":"K_PI","t":1522,"y":-17},{"s":"K_PI","t":1540,"y":-14},{"s":"K_PI","t":1565,"y":-10},{"s":"K_PI","t":1590,"y":-8},{"s":"K_PI","t":1620,"y":-6.9},{"s":"K_PI","t":1700,"y":-6.1},{"s":"K_PI","t":2000,"y":-6.0},{"s":"K_PI","t":2030,"y":-6.3},{"s":"K_PI","t":2060,"y":-6.8},{"s":"K_PI","t":2100,"y":-7.0},{"s":"K_PI","t":2500,"y":-7.0},
  {"s":"K_INV","t":0,"y":0},{"s":"K_INV","t":5,"y":2.2},{"s":"K_INV","t":10,"y":2.4},{"s":"K_INV","t":20,"y":1.6},{"s":"K_INV","t":40,"y":1.0},{"s":"K_INV","t":80,"y":0.8},{"s":"K_INV","t":500,"y":0.8},{"s":"K_INV","t":505,"y":3.1},{"s":"K_INV","t":515,"y":3.8},{"s":"K_INV","t":530,"y":3},{"s":"K_INV","t":560,"y":2.2},{"s":"K_INV","t":600,"y":1.9},{"s":"K_INV","t":1000,"y":1.8},{"s":"K_INV","t":1005,"y":5.9},{"s":"K_INV","t":1015,"y":7.2},{"s":"K_INV","t":1030,"y":6.3},{"s":"K_INV","t":1060,"y":5.0},{"s":"K_INV","t":1100,"y":4.5},{"s":"K_INV","t":1200,"y":4.3},{"s":"K_INV","t":1500,"y":4.3},{"s":"K_INV","t":1503,"y":-9},{"s":"K_INV","t":1510,"y":-16},{"s":"K_INV","t":1518,"y":-18},{"s":"K_INV","t":1532,"y":-15},{"s":"K_INV","t":1555,"y":-11},{"s":"K_INV","t":1580,"y":-8.6},{"s":"K_INV","t":1610,"y":-7.2},{"s":"K_INV","t":1700,"y":-6.1},{"s":"K_INV","t":2000,"y":-6.0},{"s":"K_INV","t":2030,"y":-6.3},{"s":"K_INV","t":2060,"y":-6.8},{"s":"K_INV","t":2100,"y":-7.0},{"s":"K_INV","t":2500,"y":-7.0},
  {"s":"D_NORM","t":0,"y":0},{"s":"D_NORM","t":5,"y":1.6},{"s":"D_NORM","t":12,"y":1.9},{"s":"D_NORM","t":25,"y":1.3},{"s":"D_NORM","t":45,"y":1.0},{"s":"D_NORM","t":80,"y":0.8},{"s":"D_NORM","t":500,"y":0.8},{"s":"D_NORM","t":505,"y":2.4},{"s":"D_NORM","t":515,"y":3.1},{"s":"D_NORM","t":530,"y":2.7},{"s":"D_NORM","t":560,"y":2.1},{"s":"D_NORM","t":600,"y":1.9},{"s":"D_NORM","t":1000,"y":1.8},{"s":"D_NORM","t":1005,"y":5},{"s":"D_NORM","t":1015,"y":6.2},{"s":"D_NORM","t":1030,"y":5.8},{"s":"D_NORM","t":1060,"y":4.9},{"s":"D_NORM","t":1100,"y":4.5},{"s":"D_NORM","t":1200,"y":4.3},{"s":"D_NORM","t":1500,"y":4.3},{"s":"D_NORM","t":1503,"y":-8},{"s":"D_NORM","t":1510,"y":-14},{"s":"D_NORM","t":1518,"y":-15.5},{"s":"D_NORM","t":1530,"y":-14},{"s":"D_NORM","t":1550,"y":-11},{"s":"D_NORM","t":1575,"y":-8.7},{"s":"D_NORM","t":1600,"y":-7.4},{"s":"D_NORM","t":1650,"y":-6.4},{"s":"D_NORM","t":1700,"y":-6.1},{"s":"D_NORM","t":2000,"y":-6.0},{"s":"D_NORM","t":2030,"y":-6.3},{"s":"D_NORM","t":2060,"y":-6.8},{"s":"D_NORM","t":2100,"y":-7.0},{"s":"D_NORM","t":2500,"y":-7.0},
  {"s":"Lee","t":0,"y":0},{"s":"Lee","t":10,"y":0.8},{"s":"Lee","t":25,"y":1.3},{"s":"Lee","t":45,"y":1.2},{"s":"Lee","t":90,"y":0.9},{"s":"Lee","t":500,"y":0.8},{"s":"Lee","t":515,"y":1.8},{"s":"Lee","t":535,"y":2.6},{"s":"Lee","t":560,"y":2.4},{"s":"Lee","t":600,"y":2.0},{"s":"Lee","t":700,"y":1.8},{"s":"Lee","t":1000,"y":1.8},{"s":"Lee","t":1020,"y":2.4},{"s":"Lee","t":1040,"y":3.3},{"s":"Lee","t":1060,"y":4.3},{"s":"Lee","t":1080,"y":4.8},{"s":"Lee","t":1120,"y":4.5},{"s":"Lee","t":1200,"y":4.3},{"s":"Lee","t":1500,"y":4.3},{"s":"Lee","t":1510,"y":-7},{"s":"Lee","t":1525,"y":-14.5},{"s":"Lee","t":1540,"y":-16},{"s":"Lee","t":1560,"y":-12.5},{"s":"Lee","t":1590,"y":-8.8},{"s":"Lee","t":1630,"y":-6.9},{"s":"Lee","t":1700,"y":-6.1},{"s":"Lee","t":2000,"y":-6.0},{"s":"Lee","t":2040,"y":-6.4},{"s":"Lee","t":2080,"y":-7.1},{"s":"Lee","t":2120,"y":-7.1},{"s":"Lee","t":2500,"y":-7.0}
 ]
}
}
